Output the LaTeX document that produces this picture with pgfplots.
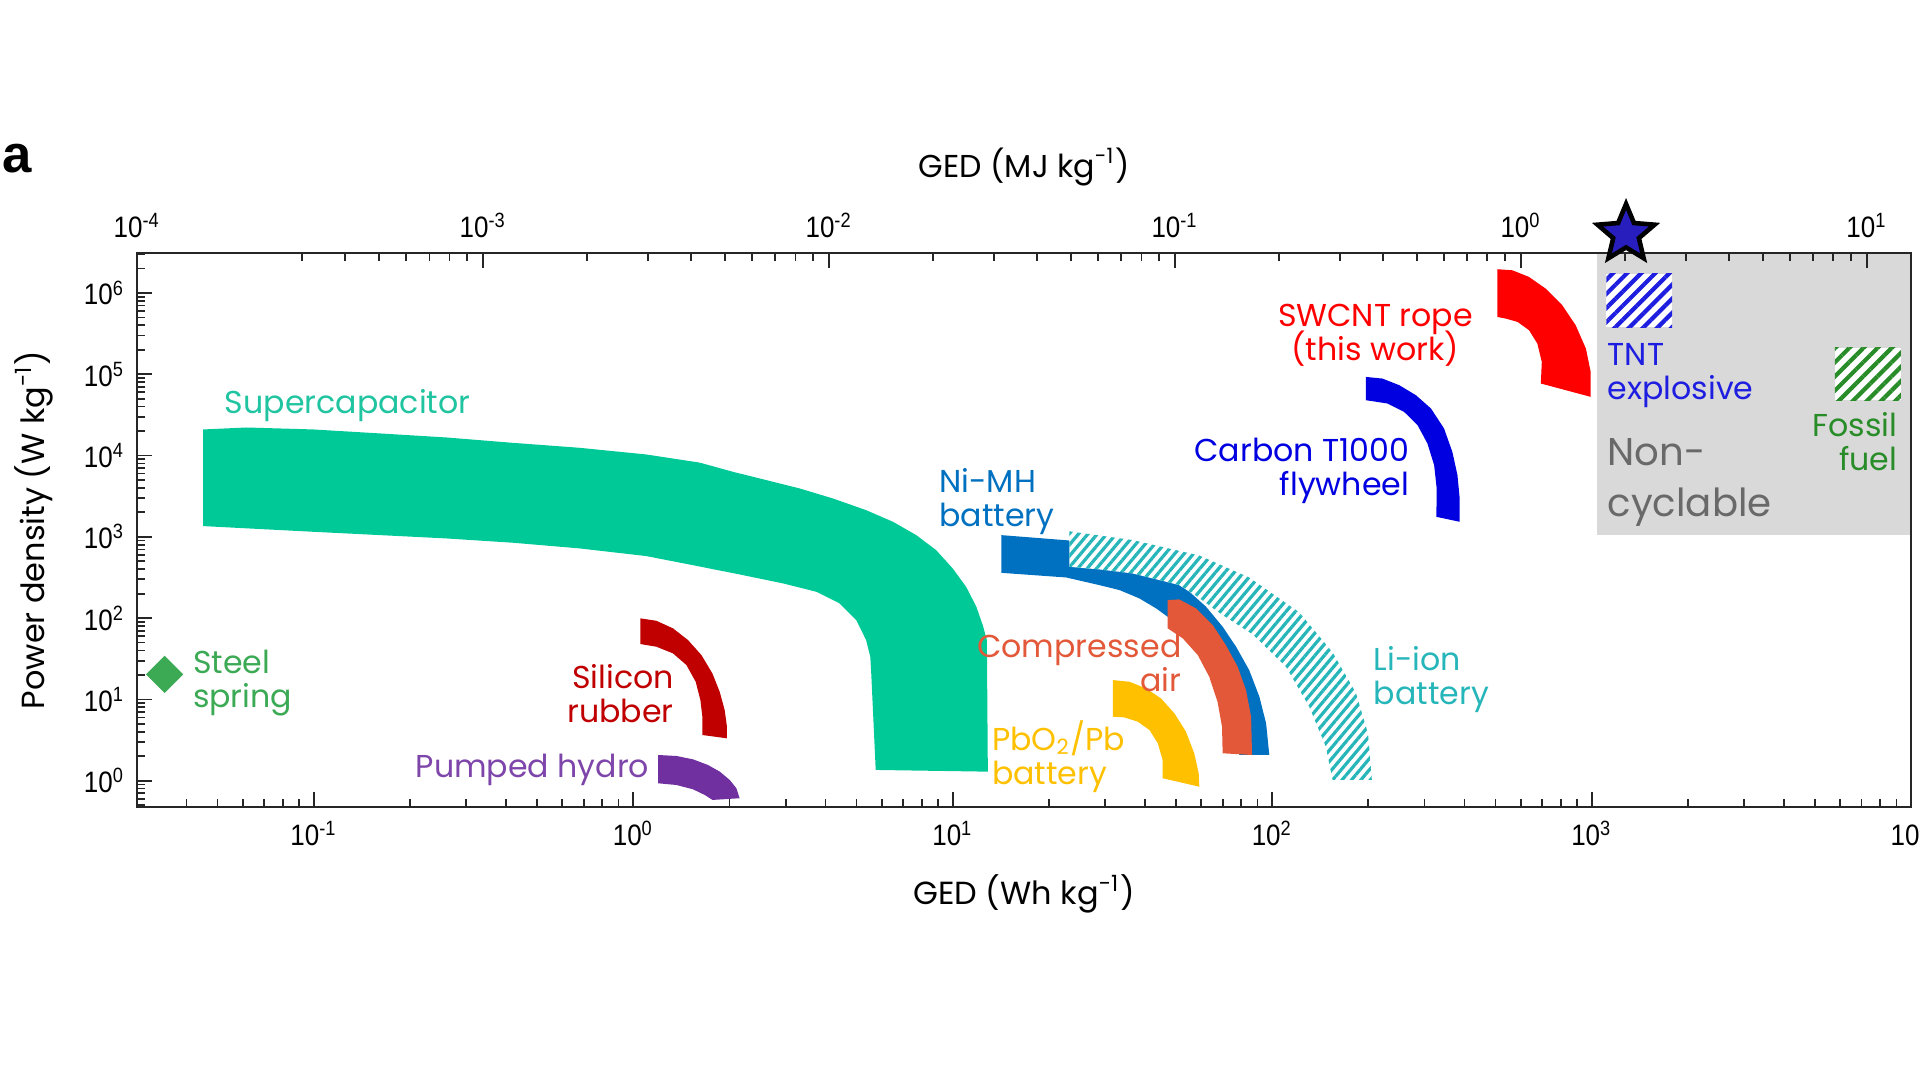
\documentclass[border=0pt]{standalone}
\usepackage{fontspec}
\setmainfont{Poppins}
\newfontfamily\tickfont[FakeStretch=0.88]{Liberation Sans}
\newfontfamily\panelfont{Liberation Sans}
\usepackage{pgfplots}
\pgfplotsset{compat=1.18}
\usetikzlibrary{patterns.meta}

\definecolor{supercap}{RGB}{0,201,152}
\definecolor{supercaptext}{RGB}{32,196,160}
\definecolor{nimh}{RGB}{0,112,192}
\definecolor{liion}{RGB}{38,182,186}
\definecolor{compair}{RGB}{226,88,56}
\definecolor{pbo}{RGB}{255,192,0}
\definecolor{carbon}{RGB}{0,0,225}
\definecolor{swcnt}{RGB}{255,0,0}
\definecolor{silrub}{RGB}{192,0,0}
\definecolor{pumped}{RGB}{112,48,160}
\definecolor{steel}{RGB}{60,170,85}
\definecolor{tnt}{RGB}{30,30,225}
\definecolor{fossil}{RGB}{40,140,40}
\definecolor{graybox}{RGB}{217,217,217}
\definecolor{noncyc}{RGB}{105,105,105}
\definecolor{starblue}{RGB}{40,30,190}

\pgfdeclareplotmark{bigstar}{%
  \pgfpathmoveto{\pgfpointpolar{90}{\pgfplotmarksize}}%
  \pgfpathlineto{\pgfpointpolar{126}{0.45\pgfplotmarksize}}%
  \pgfpathlineto{\pgfpointpolar{162}{\pgfplotmarksize}}%
  \pgfpathlineto{\pgfpointpolar{198}{0.45\pgfplotmarksize}}%
  \pgfpathlineto{\pgfpointpolar{234}{\pgfplotmarksize}}%
  \pgfpathlineto{\pgfpointpolar{270}{0.45\pgfplotmarksize}}%
  \pgfpathlineto{\pgfpointpolar{306}{\pgfplotmarksize}}%
  \pgfpathlineto{\pgfpointpolar{342}{0.45\pgfplotmarksize}}%
  \pgfpathlineto{\pgfpointpolar{18}{\pgfplotmarksize}}%
  \pgfpathlineto{\pgfpointpolar{54}{0.45\pgfplotmarksize}}%
  \pgfpathclose
  \pgfusepathqfillstroke}

\newcommand{\annfont}{\fontsize{9.0}{9.7}\selectfont\lineskiplimit=-20pt\relax}

\begin{document}
\begin{tikzpicture}
\useasboundingbox (0,0) rectangle (19.2,10.8);
\node[font=\panelfont\bfseries\fontsize{15}{16}\selectfont] at (0.17,9.21) {a};

\begin{axis}[
  at={(1.371cm,2.733cm)}, anchor=south west,
  scale only axis, width=17.74cm, height=5.534cm,
  xmin=-1.553, xmax=4.0, ymin=-0.32, ymax=6.488,
  axis on top,
  axis line style={line width=0.6pt, black!85},
  xtick={-1,0,1,2,3,4},
  xticklabels={10\textsuperscript{-1},10\textsuperscript{0},10\textsuperscript{1},10\textsuperscript{2},10\textsuperscript{3},10\textsuperscript{4}},
  minor xtick={-1.398,-1.301,-1.222,-1.155,-1.097,-1.046,
    -0.699,-0.523,-0.398,-0.301,-0.222,-0.155,-0.097,-0.046,
    0.301,0.477,0.602,0.699,0.778,0.845,0.903,0.954,
    1.301,1.477,1.602,1.699,1.778,1.845,1.903,1.954,
    2.301,2.477,2.602,2.699,2.778,2.845,2.903,2.954,
    3.301,3.477,3.602,3.699,3.778,3.845,3.903,3.954},
  ytick={0,1,2,3,4,5,6},
  yticklabels={10\textsuperscript{0},10\textsuperscript{1},10\textsuperscript{2},10\textsuperscript{3},10\textsuperscript{4},10\textsuperscript{5},10\textsuperscript{6}},
  minor ytick={-0.301,-0.222,-0.155,-0.097,-0.046,
    0.301,0.477,0.602,0.699,0.778,0.845,0.903,0.954,
    1.301,1.477,1.602,1.699,1.778,1.845,1.903,1.954,
    2.301,2.477,2.602,2.699,2.778,2.845,2.903,2.954,
    3.301,3.477,3.602,3.699,3.778,3.845,3.903,3.954,
    4.301,4.477,4.602,4.699,4.778,4.845,4.903,4.954,
    5.301,5.477,5.602,5.699,5.778,5.845,5.903,5.954,
    6.301,6.477},
  xtick pos=bottom, ytick pos=left,
  tick align=inside,
  major tick length=1.5mm, minor tick length=0.75mm,
  every tick/.style={black!85, line width=0.5pt},
  tick label style={font=\fontsize{8.4}{10}\tickfont},
  xticklabel style={yshift=-0.6pt},
  xlabel={GED (Wh kg\textsuperscript{-1})},
  ylabel={Power density (W kg\textsuperscript{-1})},
  label style={font=\fontsize{9.1}{11}\selectfont},
  x label style={at={(axis description cs:0.5,-0.158)}, anchor=center},
  y label style={at={(axis description cs:-0.058,0.5)}, anchor=center},
]
% Non-cyclable region
\addplot[draw=none, fill=graybox] coordinates {(3.018,3.021) (4.0,3.021) (4.0,6.488) (3.018,6.488)};
% Supercapacitor
\addplot[draw=none, fill=supercap] coordinates {
 (-1.346,4.321) (-1.210,4.345) (-1.002,4.321) (-0.793,4.272) (-0.584,4.222)
 (-0.376,4.156) (-0.167,4.095) (0.041,4.013) (0.208,3.913) (0.312,3.800)
 (0.417,3.697) (0.521,3.595) (0.625,3.472) (0.729,3.328) (0.813,3.185)
 (0.886,3.021) (0.948,2.837) (1.000,2.611) (1.042,2.385) (1.074,2.140)
 (1.094,1.914) (1.107,1.730) (1.110,0.111)
 (0.759,0.132) (0.745,1.320) (0.742,1.525) (0.729,1.730) (0.698,1.976)
 (0.646,2.181) (0.573,2.324) (0.469,2.427) (0.343,2.529) (0.208,2.635)
 (0.041,2.763) (-0.167,2.857) (-0.376,2.927) (-0.584,2.980) (-1.002,3.062)
 (-1.346,3.132)};
% Ni-MH battery
\addplot[draw=none, fill=nimh] coordinates {
 (1.152,3.021) (1.365,2.955) (1.563,2.750) (1.709,2.406) (1.741,2.324)
 (1.793,2.140) (1.845,1.894) (1.887,1.648) (1.928,1.361) (1.960,1.033)
 (1.981,0.705) (1.991,0.316) (1.897,0.316) (1.892,0.746) (1.866,1.238)
 (1.814,1.566) (1.751,1.812) (1.673,2.016) (1.637,2.119) (1.584,2.243)
 (1.522,2.345) (1.459,2.406) (1.355,2.500) (1.152,2.557)};
% Li-ion battery (hatched)
\addplot[draw=none, fill=white, postaction={pattern={Lines[angle=50,distance=0.72mm,line width=0.32mm]}, pattern color=liion}] coordinates {
 (1.365,3.068) (1.563,2.960) (1.772,2.770) (1.928,2.500) (2.085,2.070)
 (2.189,1.580) (2.262,1.080) (2.300,0.580) (2.312,0.009)
 (2.189,0.009) (2.168,0.418) (2.116,0.910) (2.043,1.402) (1.939,1.800)
 (1.840,2.050) (1.760,2.280) (1.709,2.406) (1.668,2.447) (1.563,2.550)
 (1.459,2.599) (1.365,2.631)};
% Compressed air
\addplot[draw=none, fill=compair] coordinates {
 (1.673,2.222) (1.709,2.230) (1.762,2.119) (1.814,1.914) (1.855,1.668)
 (1.892,1.402) (1.918,1.115) (1.934,0.787) (1.937,0.316)
 (1.845,0.337) (1.843,0.664) (1.829,0.971) (1.803,1.279) (1.767,1.546)
 (1.720,1.751) (1.673,1.874)};
% PbO2/Pb battery
\addplot[draw=none, fill=pbo] coordinates {
 (1.501,1.238) (1.553,1.217) (1.605,1.136) (1.652,1.013) (1.694,0.828)
 (1.730,0.603) (1.756,0.337) (1.770,0.091) (1.772,-0.074)
 (1.657,0.030) (1.657,0.255) (1.642,0.460) (1.616,0.623) (1.579,0.726)
 (1.537,0.779) (1.501,0.787)};
% Silicon rubber
\addplot[draw=none, fill=silrub] coordinates {
 (0.0225,1.997) (0.0726,1.967) (0.1245,1.874) (0.1714,1.730) (0.2133,1.546)
 (0.2477,1.320) (0.2706,1.094) (0.2862,0.869) (0.2934,0.664) (0.2934,0.521)
 (0.2164,0.562) (0.2164,0.787) (0.2102,0.992) (0.1955,1.217) (0.1664,1.423)
 (0.1245,1.566) (0.0726,1.648) (0.0225,1.681)};
% Pumped hydro
\addplot[draw=none, fill=pumped] coordinates {
 (0.0776,0.316) (0.135,0.304) (0.187,0.263) (0.234,0.193) (0.271,0.111)
 (0.302,0.009) (0.323,-0.094) (0.333,-0.216)
 (0.248,-0.237) (0.224,-0.176) (0.187,-0.106) (0.135,-0.053) (0.0776,-0.032)};
% Carbon T1000 flywheel
\addplot[draw=none, fill=carbon] coordinates {
 (2.293,4.967) (2.345,4.947) (2.398,4.865) (2.450,4.742) (2.497,4.579)
 (2.538,4.333) (2.564,4.045) (2.580,3.759) (2.587,3.472) (2.587,3.185)
 (2.514,3.246) (2.515,3.595) (2.507,3.882) (2.486,4.148) (2.455,4.374)
 (2.413,4.537) (2.361,4.640) (2.293,4.681)};
% SWCNT rope
\addplot[draw=none, fill=swcnt] coordinates {
 (2.705,6.292) (2.752,6.279) (2.804,6.197) (2.856,6.054) (2.908,5.849)
 (2.950,5.603) (2.982,5.316) (2.997,5.029) (2.997,4.722)
 (2.841,4.886) (2.844,5.152) (2.830,5.378) (2.804,5.542) (2.768,5.644)
 (2.731,5.685) (2.705,5.705)};
% TNT explosive (hatched)
\addplot[draw=none, fill=white, postaction={pattern={Lines[angle=45,distance=1.0mm,line width=0.42mm]}, pattern color=tnt}] coordinates {
 (3.046,5.577) (3.252,5.577) (3.252,6.236) (3.046,6.236)};
% Fossil fuel (hatched)
\addplot[draw=none, fill=white, postaction={pattern={Lines[angle=45,distance=1.0mm,line width=0.42mm]}, pattern color=fossil}] coordinates {
 (3.761,4.681) (3.968,4.681) (3.968,5.324) (3.761,5.324)};
% Steel spring
\addplot[only marks, mark=square*, mark size=1.25mm, mark options={rotate=45, fill=steel, draw=steel}] coordinates {(-1.467,1.308)};

\begin{scope}[every node/.append style={inner sep=0pt}]
\node[font=\annfont, text=supercaptext] at (axis cs:-0.894,4.616) {Supercapacitor};
\node[font=\annfont, text=steel, align=left, anchor=west] at (axis cs:-1.380,1.198) {Steel\\spring};
\node[font=\annfont, text=silrub, align=right, anchor=east] at (axis cs:0.129,1.07) {Silicon\\rubber};
\node[font=\annfont, text=pumped!90, anchor=east] at (axis cs:0.052,0.13) {Pumped hydro};
\node[font=\annfont, text=nimh, align=left, anchor=west] at (axis cs:0.956,3.435) {Ni-MH\\battery};
\node[font=\annfont, text=compair, align=right, anchor=east] at (axis cs:1.718,1.443) {Compressed\\air};
\node[font=\annfont, text=pbo, align=left, anchor=west] at (axis cs:1.121,0.300) {PbO\textsubscript{2}/Pb\\battery};
\node[font=\annfont, text=liion, align=left, anchor=west] at (axis cs:2.316,1.239) {Li-ion\\battery};
\node[font=\annfont, text=carbon, align=right, anchor=east] at (axis cs:2.431,3.806) {Carbon T1000\\flywheel};
\node[font=\annfont, text=swcnt, align=center] at (axis cs:2.323,5.48) {SWCNT rope\\(this work)};
\node[font=\annfont, text=tnt, align=left, anchor=west] at (axis cs:3.048,4.987) {TNT\\explosive};
\node[font=\annfont, text=fossil, align=right, anchor=east] at (axis cs:3.959,4.166) {Fossil\\fuel};
\node[font=\fontsize{11}{14.6}\selectfont, text=noncyc, align=left, anchor=west] at (axis cs:3.048,3.67) {Non-\\cyclable};
\end{scope}
\end{axis}

\begin{axis}[
  at={(1.371cm,2.733cm)}, anchor=south west,
  scale only axis, width=17.74cm, height=5.534cm,
  xmin=-4, xmax=1.128, ymin=-0.32, ymax=6.488,
  hide y axis,
  clip=false,
  axis line style={line width=0.6pt, black!85},
  xtick={-4,-3,-2,-1,0,1},
  xticklabels={10\textsuperscript{-4},10\textsuperscript{-3},10\textsuperscript{-2},10\textsuperscript{-1},10\textsuperscript{0},10\textsuperscript{1}},
  minor xtick={-3.523,-3.398,-3.301,-3.222,-3.155,-3.097,-3.046,
    -2.699,-2.523,-2.398,-2.301,-2.222,-2.155,-2.097,-2.046,
    -1.699,-1.523,-1.398,-1.301,-1.222,-1.155,-1.097,-1.046,
    -0.699,-0.523,-0.398,-0.301,-0.222,-0.155,-0.097,-0.046,
    0.301,0.477,0.602,0.699,0.778,0.845,0.903,0.954},
  xtick pos=top, xticklabel pos=top,
  tick align=inside,
  major tick length=1.5mm, minor tick length=0.75mm,
  every tick/.style={black!85, line width=0.5pt},
  tick label style={font=\fontsize{8.4}{10}\tickfont},
  xticklabel style={yshift=1pt},
  xlabel={GED (MJ kg\textsuperscript{-1})},
  label style={font=\fontsize{9.0}{11}\selectfont},
  x label style={at={(axis description cs:0.5,1.1566)}, anchor=center},
]
\addplot[only marks, mark=bigstar, mark size=3mm, mark options={fill=starblue, draw=black, line width=1.3pt, line join=miter}] coordinates {(0.304,6.726)};
\end{axis}
\end{tikzpicture}
\end{document}
